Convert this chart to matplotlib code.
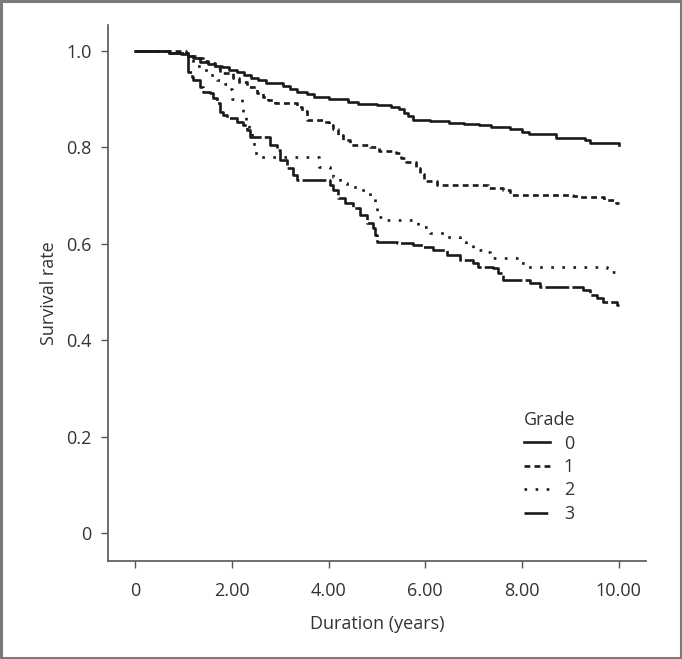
import matplotlib
matplotlib.use('Agg')
import matplotlib.pyplot as plt
from matplotlib.patches import Rectangle

plt.rcParams['font.family'] = ['Open Sans', 'DejaVu Sans']

# Kaplan-Meier curves (years, survival)
grade0_t = [0, 0.7, 0.95, 1.1, 1.2, 1.35, 1.5, 1.65, 1.8, 1.95, 2.1, 2.25, 2.4, 2.55, 2.7,
            3.05, 3.2, 3.35, 3.55, 3.7, 4.0, 4.4, 4.6, 5.0, 5.3, 5.45, 5.55, 5.65, 5.75,
            6.1, 6.5, 6.8, 7.1, 7.35, 7.75, 8.0, 8.15, 8.7, 9.3, 9.4, 10.0]
grade0_s = [1.0, 0.996, 0.994, 0.99, 0.985, 0.978, 0.974, 0.970, 0.966, 0.961, 0.956, 0.950,
            0.945, 0.940, 0.934, 0.928, 0.921, 0.916, 0.910, 0.905, 0.900, 0.895, 0.891,
            0.888, 0.884, 0.879, 0.872, 0.865, 0.858, 0.855, 0.851, 0.848, 0.846, 0.842,
            0.838, 0.833, 0.827, 0.820, 0.815, 0.810, 0.806]

grade1_t = [0, 1.05, 1.15, 1.28, 1.4, 1.51, 1.65, 1.76, 2.02, 2.15, 2.31, 2.52, 2.65, 2.75,
            2.9, 3.35, 3.45, 3.55, 3.9, 4.0, 4.1, 4.2, 4.3, 4.45, 4.85, 5.05, 5.4, 5.5, 5.6,
            5.8, 5.9, 5.97, 6.25, 7.3, 7.6, 7.75, 9.05, 9.2, 9.7, 9.95, 10.0]
grade1_s = [1.0, 0.995, 0.99, 0.985, 0.98, 0.975, 0.965, 0.955, 0.945, 0.935, 0.925, 0.912,
            0.905, 0.898, 0.892, 0.884, 0.876, 0.858, 0.853, 0.846, 0.838, 0.826, 0.815,
            0.805, 0.800, 0.792, 0.788, 0.778, 0.770, 0.758, 0.745, 0.730, 0.722, 0.716,
            0.712, 0.702, 0.700, 0.697, 0.690, 0.685, 0.685]

grade2_t = [0, 0.75, 1.1, 1.2, 1.4, 1.55, 1.7, 1.85, 1.96, 2.0, 2.2, 2.23, 2.3, 2.36, 2.42,
            2.46, 2.5, 3.8, 4.03, 4.09, 4.24, 4.38, 4.65, 4.86, 4.96, 5.0, 5.21, 5.85, 6.1,
            6.45, 6.71, 6.85, 6.98, 7.2, 7.33, 7.95, 8.1, 9.75, 9.8, 10.0]
grade2_s = [1.0, 0.996, 0.99, 0.97, 0.96, 0.95, 0.94, 0.932, 0.922, 0.90, 0.894, 0.873,
            0.857, 0.836, 0.815, 0.795, 0.78, 0.759, 0.753, 0.739, 0.726, 0.718, 0.712,
            0.695, 0.676, 0.656, 0.649, 0.635, 0.622, 0.614, 0.604, 0.598, 0.587, 0.583,
            0.571, 0.560, 0.552, 0.550, 0.542, 0.542]

grade3_t = [0, 0.7, 1.1, 1.18, 1.2, 1.34, 1.4, 1.55, 1.61, 1.69, 1.76, 1.82, 1.9, 2.11,
            2.23, 2.31, 2.38, 2.79, 2.93, 3.0, 3.14, 3.26, 3.35, 4.03, 4.09, 4.19, 4.34,
            4.5, 4.65, 4.79, 4.92, 4.96, 5.0, 5.41, 5.74, 5.95, 6.16, 6.45, 6.71, 6.98,
            7.09, 7.4, 7.5, 7.6, 8.16, 8.37, 9.26, 9.4, 9.55, 9.67, 9.96, 10.0]
grade3_s = [1.0, 0.996, 0.956, 0.946, 0.94, 0.925, 0.915, 0.913, 0.902, 0.892, 0.873,
            0.867, 0.861, 0.853, 0.846, 0.836, 0.822, 0.805, 0.795, 0.774, 0.757, 0.743,
            0.732, 0.722, 0.712, 0.695, 0.685, 0.674, 0.660, 0.643, 0.633, 0.618, 0.604,
            0.602, 0.598, 0.593, 0.587, 0.577, 0.566, 0.560, 0.552, 0.550, 0.539, 0.525,
            0.519, 0.510, 0.504, 0.494, 0.488, 0.479, 0.473, 0.473]

grade_labels = ['0', '1', '2', '3']
x_ticks = [0, 2, 4, 6, 8, 10]
x_tick_labels = ['0', '2.00', '4.00', '6.00', '8.00', '10.00']
y_ticks = [0, 0.2, 0.4, 0.6, 0.8, 1.0]
y_tick_labels = ['0', '0.2', '0.4', '0.6', '0.8', '1.0']

styles = ['-', (0, (2.2, 1.6)), (0, (1.0, 3.2)), (0, (9, 1.2))]

fig = plt.figure(figsize=(6.82, 6.59), dpi=100)
ax = fig.add_axes([0.1584, 0.1487, 0.947 - 0.1584, 0.962 - 0.1487])

curves = [(grade0_t, grade0_s), (grade1_t, grade1_s), (grade2_t, grade2_s), (grade3_t, grade3_s)]
for i in range(len(curves)):
    t, s = curves[i]
    ax.step(t, s, where='post', color='#1a1a1a', lw=1.9, linestyle=styles[i],
            label=grade_labels[i])

ax.set_xlim(-0.56, 10.56)
ax.set_ylim(-0.058, 1.054)
ax.set_xticks(x_ticks)
ax.set_xticklabels(x_tick_labels)
ax.set_yticks(y_ticks)
ax.set_yticklabels(y_tick_labels)
ax.tick_params(direction='out', length=5, width=1, color='#555555', labelsize=13,
               labelcolor='#333333')
ax.tick_params(axis='x', pad=10)
ax.tick_params(axis='y', pad=7)
for side in ['top', 'right']:
    ax.spines[side].set_visible(False)
for side in ['left', 'bottom']:
    ax.spines[side].set_color('#555555')
    ax.spines[side].set_linewidth(1.2)

ax.set_xlabel('Duration (years)', fontsize=13, color='#333333', labelpad=11)
ax.set_ylabel('Survival rate', fontsize=13, color='#333333', labelpad=6)

leg = ax.legend(title='Grade', frameon=False, loc='upper left',
                bbox_to_anchor=(0.758, 0.387), bbox_transform=fig.transFigure,
                fontsize=13, title_fontsize=13, handlelength=1.45,
                handletextpad=0.75, labelspacing=0.3, borderaxespad=0)
leg._legend_box.align = 'left'
for txt in leg.get_texts():
    txt.set_color('#333333')
leg.get_title().set_color('#333333')

fig.patches.append(Rectangle((0.002, 0.002), 0.996, 0.996, transform=fig.transFigure,
                             fill=False, edgecolor='#7a7a7a', lw=2.2))

plt.savefig('out.png', dpi=100)
